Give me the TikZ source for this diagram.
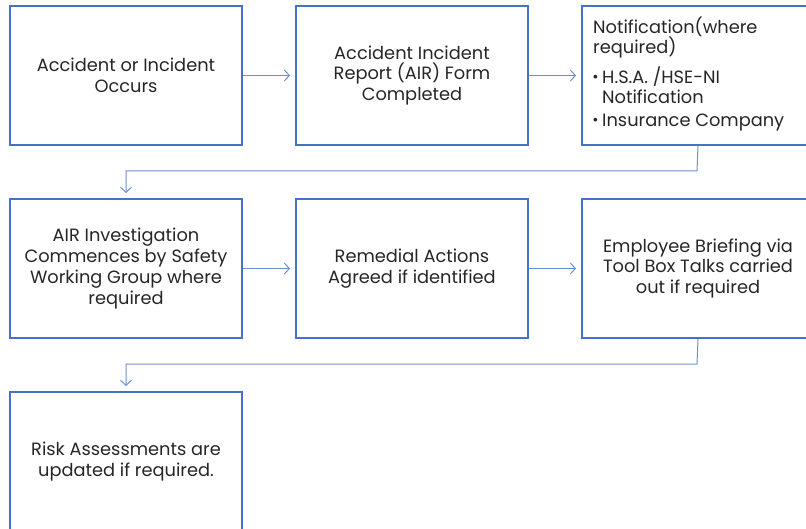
\documentclass[tikz,border=0pt]{standalone}
\usepackage{fontspec}
\setmainfont{Poppins}
\usetikzlibrary{arrows.meta}
\definecolor{boxblue}{HTML}{4472C4}
\definecolor{lineblue}{HTML}{6E8FD0}
\definecolor{txt}{HTML}{262626}
\begin{document}
\begin{tikzpicture}[x=1pt,y=-1pt,
  box/.style={draw=boxblue, line width=2pt, minimum width=232pt, minimum height=139pt, anchor=north west, inner sep=0pt},
  lbl/.style={text=txt, font=\fontsize{17.8}{20.8}\selectfont, align=center},
  conn/.style={draw=lineblue, line width=1pt, -{Straight Barb[length=5pt,width=11pt,line width=1pt]}, shorten >=5pt}]
\useasboundingbox (0,0) rectangle (806,529);
% row 1
\node[box] (b1) at (9,5) {};
\node[box] (b2) at (295,5) {};
\node[box] (b3) at (581,5) {};
% row 2
\node[box] (b4) at (9,198) {};
\node[box] (b5) at (295,198) {};
\node[box] (b6) at (581,198) {};
% row 3
\node[box] (b7) at (9,391) {};
% texts
\node[lbl] (t1) at (b1.center) {Accident or Incident\\Occurs};
\node[lbl] (t2) at (b2.center) {Accident Incident\\Report (AIR) Form\\Completed};
\node[text=txt, font=\fontsize{17.8}{20}\selectfont, anchor=north west, align=left, inner sep=0pt] (t3) at (593,17)
  {Notification(where\\required)\\[7pt]%
   \makebox[9pt][l]{\raisebox{4pt}{\scalebox{0.55}{$\bullet$}}}H.S.A. /HSE-NI\\
   \hspace*{9pt}Notification\\[3pt]%
   \makebox[9pt][l]{\raisebox{4pt}{\scalebox{0.55}{$\bullet$}}}Insurance Company};
\node[lbl] (t4) at (b4.center) {AIR Investigation\\Commences by Safety\\Working Group where\\required};
\node[lbl] (t5) at (b5.center) {Remedial Actions\\Agreed if identified};
\node[lbl] (t6) at (b6.center) {Employee Briefing via\\Tool Box Talks carried\\out if required};
\node[lbl] (t7) at (b7.center) {Risk Assessments are\\updated if required.};
% connectors
\coordinate (m1) at (697,171);
\coordinate (m2) at (697,364);
\draw[conn] (b1.east) -- (b2.west);
\draw[conn] (b2.east) -- (b3.west);
\draw[conn] (b3.south) -- (m1) -| (b4.north);
\draw[conn] (b4.east) -- (b5.west);
\draw[conn] (b5.east) -- (b6.west);
\draw[conn] (b6.south) -- (m2) -| (b7.north);
\end{tikzpicture}
\end{document}
